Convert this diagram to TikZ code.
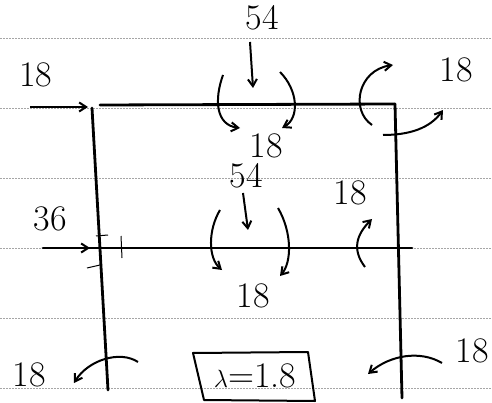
\documentclass[tikz,border=0pt]{standalone}
\usepackage{fontspec}
\usetikzlibrary{arrows.meta}
\begin{document}
\begin{tikzpicture}[x=1pt,y=-1pt,
  rule/.style={gray!70,line width=0.8pt,dash pattern=on 2pt off 1pt},
  member/.style={line width=2.8pt,line cap=round},
  force/.style={line width=2pt,-{Straight Barb[length=7pt,width=9pt]}},
  scrib/.style={line width=1pt},
  lbl/.style={font=\fontsize{36}{36}\selectfont,inner sep=0pt}]
\useasboundingbox (0,0) rectangle (492,403);
% ruled paper
\foreach \yy in {38,108,178,248,318,388}
  \draw[rule] (0,\yy) -- (492,\yy);
% frame
\coordinate (TL) at (100,105);
\coordinate (TR) at (395,104);
\coordinate (LT) at (92,108);
\coordinate (LB) at (108,390);
\coordinate (RB) at (402,398);
\coordinate (ML) at (43,248);
\coordinate (MR) at (412,248);
\draw[member] (TL) -- (TR);
\draw[member] (LT) -- (LB);
\draw[member] (TR) -- (RB);
\draw[member] (ML) -- (MR);
% top left horizontal load
\node[lbl] (t18a) at (36,75) {18};
\coordinate (hA) at (30,107);
\coordinate (hB) at (88,107);
\draw[force] (hA) -- (hB);
% top 54
\node[lbl] (t54) at (262,18) {54};
\coordinate (d1a) at (250,42);
\coordinate (d1b) at (253,88);
\draw[force] (d1a) -- (d1b);
% top moments
\coordinate (m1s) at (223,75);
\coordinate (m1e) at (240,128);
\draw[force] (m1s) .. controls (214,100) and (216,125) .. (m1e);
\coordinate (m2s) at (280,72);
\coordinate (m2e) at (282,128);
\draw[force] (m2s) .. controls (298,90) and (300,118) .. (m2e);
\node[lbl] (t18b) at (266,146) {18};
% top right moments
\coordinate (m3s) at (372,125);
\coordinate (m3e) at (393,65);
\draw[force] (m3s) .. controls (350,110) and (358,70) .. (m3e);
\coordinate (m4s) at (383,135);
\coordinate (m4e) at (443,110);
\draw[force] (m4s) .. controls (410,135) and (430,128) .. (m4e);
\node[lbl] (t18c) at (456,70) {18};
% middle 54
\node[lbl] (m54) at (246,176) {54};
\coordinate (d2a) at (243,193);
\coordinate (d2b) at (248,230);
\draw[force] (d2a) -- (d2b);
% middle moments
\coordinate (m5s) at (220,210);
\coordinate (m5e) at (222,270);
\draw[force] (m5s) .. controls (208,230) and (208,258) .. (m5e);
\coordinate (m6s) at (278,208);
\coordinate (m6e) at (280,276);
\draw[force] (m6s) .. controls (292,232) and (292,262) .. (m6e);
\node[lbl] (m18) at (253,296) {18};
% middle right moment
\node[lbl] (r18) at (350,193) {18};
\coordinate (m7s) at (365,267);
\coordinate (m7e) at (372,219);
\draw[force] (m7s) .. controls (352,250) and (356,235) .. (m7e);
% 36 load
\node[lbl] (l36) at (50,219) {36};
\coordinate (hC) at (45,248);
\coordinate (hD) at (90,248);
\draw[force] (hC) -- (hD);
% scribbles near left joint
\draw[scrib] (121,236) -- (122,258);
\draw[scrib] (87,268) -- (100,265);
\draw[scrib] (96,236) -- (108,235);
% bottom moments
\node[lbl] (b18a) at (29,375) {18};
\coordinate (m8s) at (138,362);
\coordinate (m8e) at (74,383);
\draw[force] (m8s) .. controls (120,350) and (88,360) .. (m8e);
\node[lbl] (b18b) at (472,351) {18};
\coordinate (m9s) at (442,363);
\coordinate (m9e) at (368,374);
\draw[force] (m9s) .. controls (420,350) and (390,355) .. (m9e);
% lambda box
\coordinate (bx1) at (193,353);
\coordinate (bx2) at (308,352);
\coordinate (bx3) at (315,401);
\coordinate (bx4) at (204,400);
\draw[line width=2pt,line join=round] (bx1) -- (bx2) -- (bx3) -- (bx4) -- cycle;
\node[lbl] (lam) at (255,376) {$\lambda$=1.8};
\end{tikzpicture}
\end{document}
